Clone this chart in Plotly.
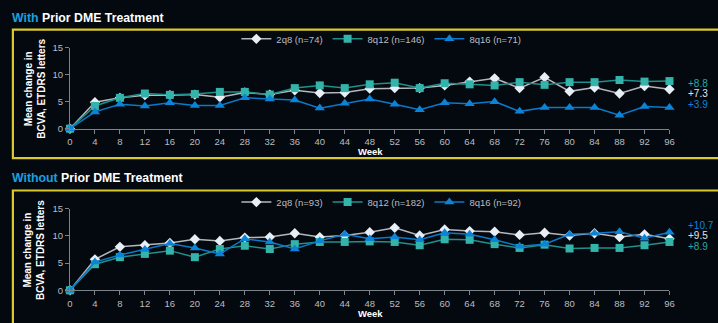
import plotly.graph_objects as go

weeks = list(range(0, 97, 4))

# With prior DME treatment
with_2q8 = [0, 4.9, 5.7, 6.2, 6.2, 6.3, 5.8, 6.7, 6.3, 7.1, 6.6, 6.7, 7.4, 7.5, 7.5, 8.0, 8.7, 9.3, 7.5, 9.5, 6.9, 7.6, 6.5, 7.9, 7.3]
with_8q12 = [0, 4.2, 5.7, 6.5, 6.25, 6.4, 6.8, 6.8, 6.3, 7.5, 8.0, 7.5, 8.2, 8.5, 7.5, 8.4, 8.2, 8.0, 8.6, 8.1, 8.6, 8.6, 9.0, 8.7, 8.8]
with_8q16 = [0, 3.1, 4.5, 4.2, 4.8, 4.3, 4.3, 5.7, 5.5, 5.3, 3.8, 4.7, 5.5, 4.5, 3.5, 4.8, 4.6, 5.0, 3.2, 3.9, 3.9, 3.9, 2.5, 4.1, 3.9]

# Without prior DME treatment
wo_2q8 = [0, 5.7, 8.0, 8.3, 8.7, 9.4, 9.1, 9.7, 9.8, 10.5, 9.8, 10.1, 10.7, 11.5, 10.1, 11.2, 10.9, 10.8, 10.2, 10.6, 10.1, 10.5, 9.8, 10.3, 9.5]
wo_8q12 = [0, 4.8, 6.1, 6.7, 7.3, 6.1, 7.6, 8.2, 7.6, 8.5, 8.9, 8.9, 9.0, 8.9, 8.3, 9.4, 9.3, 8.5, 7.8, 8.4, 7.7, 7.8, 7.8, 8.3, 8.9]
wo_8q16 = [0, 5.2, 6.5, 7.5, 8.6, 7.8, 6.7, 9.5, 8.9, 7.6, 9.1, 10.3, 9.5, 9.8, 9.3, 10.6, 10.3, 9.3, 8.1, 8.5, 10.3, 10.5, 10.8, 9.6, 10.7]

top_names = ["2q8 (n=74)", "8q12 (n=146)", "8q16 (n=71)"]
bot_names = ["2q8 (n=93)", "8q12 (n=182)", "8q16 (n=92)"]
top_end = ["+7.3", "+8.8", "+3.9"]
bot_end = ["+9.5", "+8.9", "+10.7"]
yticks = [0, 5, 10, 15]

W, H = 718, 323
def px(x):
    return x / W
def py(y):
    return 1 - y / H

BG = "#04090f"
YEL = "#d8c92c"
TICK = "#b9bdc2"
AX = "#7d838a"
styles = [
    dict(line="#b4b8bd", marker="#e8eef6", symbol="diamond", size=8),
    dict(line="#1f908b", marker="#33b3aa", symbol="square", size=8),
    dict(line="#0b79c9", marker="#0b84d8", symbol="triangle-up", size=9),
]

fig = go.Figure()

panels = [
    (with_2q8, with_8q12, with_8q16, top_names, "x", "y", "legend"),
    (wo_2q8, wo_8q12, wo_8q16, bot_names, "x2", "y2", "legend2"),
]
for vals_a, vals_b, vals_c, names, xa, ya, lg in panels:
    for vals, name, st in zip([vals_a, vals_b, vals_c], names, styles):
        fig.add_trace(go.Scatter(
            x=weeks, y=vals, name=name, mode="lines+markers",
            line=dict(color=st["line"], width=1.5),
            marker=dict(color=st["marker"], symbol=st["symbol"], size=st["size"], line=dict(width=0)),
            xaxis=xa, yaxis=ya, legend=lg, cliponaxis=False,
        ))

xdom = [px(67.7), px(674)]
axis_common = dict(
    showgrid=False, zeroline=False, showline=True, linecolor=AX, linewidth=1,
    ticks="outside", ticklen=4, tickcolor=AX,
    tickfont=dict(family="Arial, Liberation Sans", size=9.5, color=TICK),
)
fig.update_layout(
    width=W, height=H, margin=dict(l=0, r=0, t=0, b=0),
    paper_bgcolor=BG, plot_bgcolor=BG,
    font=dict(family="Arial, Liberation Sans", color=TICK),
    xaxis=dict(domain=xdom, range=[0, 96], tickvals=weeks, anchor="y", **axis_common),
    yaxis=dict(domain=[py(127), py(43)], range=[0, 15], tickvals=yticks, anchor="x", **axis_common),
    xaxis2=dict(domain=xdom, range=[0, 96], tickvals=weeks, anchor="y2", **axis_common),
    yaxis2=dict(domain=[py(294.3), py(210)], range=[0, 15], tickvals=yticks, anchor="x2", **axis_common),
    legend=dict(orientation="h", x=px(236), y=py(34), xanchor="left", yanchor="middle",
                bgcolor="rgba(0,0,0,0)", font=dict(size=9.5, color=TICK), itemwidth=30),
    legend2=dict(orientation="h", x=px(236), y=py(203), xanchor="left", yanchor="middle",
                 bgcolor="rgba(0,0,0,0)", font=dict(size=9.5, color=TICK), itemwidth=30),
    showlegend=True,
)

shapes = [
    dict(type="rect", xref="paper", yref="paper", x0=px(10), x1=1.02, y0=py(157.5), y1=py(24.5),
         line=dict(color=YEL, width=2.2), fillcolor="rgba(0,0,0,0)", layer="below"),
    dict(type="rect", xref="paper", yref="paper", x0=px(10), x1=1.02, y0=-0.1, y1=py(191),
         line=dict(color=YEL, width=2.2), fillcolor="rgba(0,0,0,0)", layer="below"),
]
fig.update_layout(shapes=shapes)

ann = []
ann.append(dict(text="<b><span style='color:#1aa0e0'>With</span> Prior DME Treatment</b>",
                x=px(7), y=py(12), xanchor="left", yanchor="middle", showarrow=False,
                font=dict(size=12.3, color="#ffffff")))
ann.append(dict(text="<b><span style='color:#1aa0e0'>Without</span> Prior DME Treatment</b>",
                x=px(7), y=py(178), xanchor="left", yanchor="middle", showarrow=False,
                font=dict(size=12.3, color="#ffffff")))
for yc in [86, 253]:
    ann.append(dict(text="<b>Mean change in<br>BCVA, ETDRS letters</b>", textangle=-90,
                    x=px(32), y=py(yc), xanchor="center", yanchor="middle", showarrow=False,
                    font=dict(size=10, color="#ffffff")))
for yc in [151, 318.5]:
    ann.append(dict(text="<b>Week</b>", x=px(372), y=py(yc), xanchor="center", yanchor="middle",
                    showarrow=False, font=dict(size=9.5, color="#ffffff")))

end_colors = ["#e0e4ea", "#2aa89f", "#0b84d8"]
top_end_y = [91, 80, 102]
bot_end_y = [238, 249, 227]
for txt, c, yy in zip(top_end, end_colors, top_end_y):
    ann.append(dict(text=txt, x=px(691), y=py(yy), xanchor="left", yanchor="middle",
                    showarrow=False, font=dict(size=10, color=c)))
for txt, c, yy in zip(bot_end, end_colors, bot_end_y):
    ann.append(dict(text=txt, x=px(691), y=py(yy), xanchor="left", yanchor="middle",
                    showarrow=False, font=dict(size=10, color=c)))
for a in ann:
    a.update(xref="paper", yref="paper")
fig.update_layout(annotations=ann)

fig.write_html("out.html")
